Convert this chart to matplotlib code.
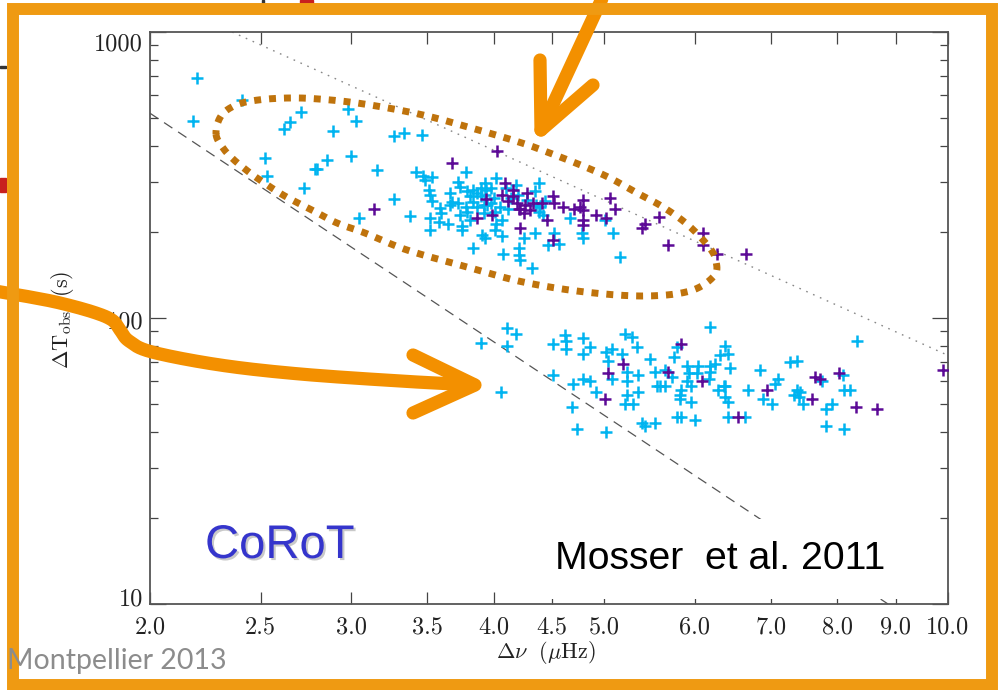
import numpy as np
import matplotlib
matplotlib.use("Agg")
import matplotlib.pyplot as plt
import matplotlib.patheffects as pe
from matplotlib.lines import Line2D
from matplotlib.patches import Rectangle
from matplotlib.transforms import Affine2D, ScaledTranslation
from matplotlib.ticker import FixedLocator, FormatStrFormatter, LogLocator, NullLocator, NullFormatter

# period spacing vs large separation, CoRoT red giants
# (delta nu in microHz, delta T_obs in s)
clump_cyan = [
    (2.20, 690), (2.18, 490), (2.41, 578), (2.71, 525), (2.65, 486), (2.62, 458), (2.98, 538),
    (3.03, 487), (2.89, 451), (2.52, 363), (2.53, 314), (2.86, 356), (2.80, 333), (2.79, 331),
    (3.00, 368), (3.16, 329), (2.73, 285), (3.05, 224),
    (3.27, 433), (3.34, 444), (3.46, 438), (3.42, 323), (3.47, 314), (3.53, 312), (3.27, 260),
    (3.38, 228), (3.78, 324), (3.72, 300), (3.52, 203), (3.84, 175), (3.91, 195), (3.75, 203),
    (3.48, 304), (3.51, 280), (3.52, 269), (3.53, 257), (3.59, 242), (3.60, 232), (3.52, 223),
    (3.58, 217), (3.65, 214), (3.66, 273), (3.68, 255), (3.66, 248),
    (3.74, 288), (3.79, 277), (3.81, 266), (3.72, 252), (3.78, 245), (3.74, 229), (3.79, 235),
    (3.81, 220), (3.75, 209),
    (3.84, 280), (3.87, 273), (3.90, 284), (3.93, 296), (3.90, 266), (3.84, 255), (3.87, 245),
    (3.92, 248), (3.93, 191),
    (4.01, 203), (4.02, 214), (4.01, 235), (3.98, 252), (3.94, 280), (4.02, 308), (3.98, 284),
    (3.93, 270), (4.00, 262), (3.95, 248), (3.92, 232), (4.07, 193), (4.07, 220),
    (4.10, 285), (4.14, 262), (4.20, 270), (4.28, 258), (4.12, 240), (4.05, 245),
    (4.38, 296), (4.35, 277), (4.44, 257), (4.38, 235), (4.42, 229), (4.36, 248),
    (4.18, 292), (4.39, 245), (4.67, 223), (4.52, 198), (4.56, 182), (4.46, 180), (4.35, 198),
    (4.32, 149), (4.22, 160), (4.21, 175), (4.21, 166), (4.08, 168), (4.25, 190),
    (4.78, 198), (4.79, 190), (5.09, 198), (5.16, 163), (5.01, 220),
]
clump_violet = [
    (3.14, 240), (3.68, 348), (3.94, 261), (3.87, 224), (3.99, 229), (4.03, 385),
    (4.09, 296), (4.16, 280), (4.12, 257), (4.07, 269), (4.16, 266), (4.19, 252), (4.22, 241),
    (4.26, 248), (4.28, 273), (4.30, 238), (4.33, 252), (4.25, 232), (4.21, 241),
    (4.41, 252), (4.45, 221), (4.51, 266), (4.52, 252), (4.60, 245), (4.70, 241), (4.76, 245),
    (4.79, 238), (4.79, 220), (4.79, 211), (4.79, 259), (4.92, 229), (5.02, 223), (5.06, 262),
    (5.11, 241), (5.39, 206), (5.43, 214), (5.58, 225), (5.69, 180), (6.10, 198), (6.10, 180),
    (6.27, 168), (6.65, 167), (4.51, 187), (4.22, 206),
]
rgb_cyan = [
    (4.11, 92), (4.18, 88), (3.90, 82), (4.11, 80), (4.06, 55), (4.51, 63), (4.62, 87),
    (4.63, 83), (4.63, 78), (4.51, 81), (4.79, 85), (4.86, 79), (4.79, 75), (4.69, 59),
    (4.79, 61), (4.86, 60), (4.92, 55), (4.68, 49), (4.73, 41), (5.02, 76), (5.08, 78),
    (5.18, 75), (5.04, 71), (5.08, 61), (5.23, 65), (5.23, 60), (5.23, 54), (5.21, 50),
    (5.30, 50), (5.02, 40), (5.21, 88), (5.29, 86), (5.34, 79),
    (6.19, 93), (5.79, 79), (5.75, 73), (5.48, 72), (5.35, 63), (5.54, 65), (5.65, 66),
    (5.73, 62), (5.91, 68), (6.04, 68), (5.93, 64), (6.03, 64), (6.19, 68), (6.19, 65),
    (6.25, 69), (6.44, 67), (5.91, 60), (5.96, 58), (6.17, 61), (5.59, 58), (5.65, 58),
    (5.56, 58), (5.84, 56), (5.82, 54), (5.82, 52), (5.95, 51), (5.35, 55), (6.29, 56),
    (6.36, 58), (6.38, 58), (6.38, 53), (6.42, 51), (5.39, 43), (5.43, 42), (5.54, 43),
    (5.79, 45), (5.84, 45), (6.00, 44), (6.42, 45), (6.64, 45), (6.68, 56), (6.84, 66),
    (6.89, 52), (7.01, 50), (7.05, 59), (7.10, 61), (7.27, 70), (7.37, 71), (7.33, 54),
    (6.42, 75), (6.32, 74), (6.38, 80),
    (8.32, 83), (7.76, 60), (8.09, 63), (7.37, 56), (7.42, 55), (7.40, 53), (7.46, 50),
    (8.10, 56), (8.20, 56), (7.91, 50), (7.82, 48), (7.82, 42), (8.11, 41),
]
rgb_violet = [
    (5.19, 69), (5.04, 64), (5.01, 52), (5.84, 81), (5.69, 65), (6.09, 60), (6.55, 45),
    (6.94, 56), (7.65, 62), (7.73, 61), (8.02, 64), (7.60, 52), (8.30, 49), (8.66, 48),
    (9.89, 66),
]

# reference relations drawn across the panel
upper_line_nu = [2.36, 10.0]
upper_line_dt = [1000, 74]
lower_line_nu = [2.0, 8.86]
lower_line_dt = [520, 10]

x_ticks = [2.0, 2.5, 3.0, 3.5, 4.0, 4.5, 5.0, 6.0, 7.0, 8.0, 9.0, 10.0]
y_ticks = [10, 100, 1000]

CYAN = "#00B4F0"
VIOLET = "#5C0A96"
FRAME = "#EF9A12"
ARROW = "#F39000"
LOOP = "#BF730C"

plt.rcParams["mathtext.fontset"] = "cm"
plt.rcParams["axes.formatter.use_mathtext"] = True

W, H = 998, 690
fig = plt.figure(figsize=(W / 100, H / 100), dpi=100)
# pixel coordinates, origin top-left, for the hand-drawn overlay
px = Affine2D().scale(1 / W, -1 / H).translate(0, 1) + fig.transFigure

ax = fig.add_axes([150 / W, (H - 604) / H, 798 / W, 572 / H])
ax.set_xscale("log")
ax.set_yscale("log")
ax.set_xlim(2.0, 10.0)
ax.set_ylim(10, 1000)

ax.plot(upper_line_nu, upper_line_dt, color="#888888", lw=1.0,
        linestyle=(0, (1.2, 4.2)), zorder=1)
ax.plot(lower_line_nu, lower_line_dt, color="#555555", lw=0.9,
        linestyle=(0, (8, 5.5)), zorder=1)

for pts, col in [(clump_cyan + rgb_cyan, CYAN), (clump_violet + rgb_violet, VIOLET)]:
    nu, dt = zip(*pts)
    ax.plot(nu, dt, "+", color=col, ms=8.2, mew=1.8, zorder=3)

# IDL-like axes: ticks inside on all four sides
for s in ax.spines.values():
    s.set_color("#555555")
    s.set_linewidth(1.3)
ax.xaxis.set_major_locator(FixedLocator(x_ticks))
ax.xaxis.set_major_formatter(FormatStrFormatter("%.1f"))
ax.xaxis.set_minor_locator(NullLocator())
ax.set_yticks(y_ticks)
ax.yaxis.set_major_formatter(FormatStrFormatter("%d"))
ax.yaxis.set_minor_locator(LogLocator(base=10, subs=np.arange(2, 10)))
ax.yaxis.set_minor_formatter(NullFormatter())
ax.tick_params(which="both", direction="in", top=True, right=True,
               color="#444444", width=0.9, labelcolor="#222222")
ax.tick_params(axis="x", which="major", length=8.6, pad=9, labelsize=17.5,
               labelfontfamily="cmr10")
ax.tick_params(axis="y", which="major", length=11.5, pad=5, labelsize=17.5,
               labelfontfamily="cmr10")
ax.tick_params(axis="y", which="minor", length=5.8)
for tick, shift in zip(ax.yaxis.get_major_ticks(), [7, -2, -10]):
    tick.label1.set_transform(tick.label1.get_transform()
                              + ScaledTranslation(0, shift / 100, fig.dpi_scale_trans))

fig.text(546, 652, r"$\Delta\nu\ \ (\mu{\rm Hz})$", transform=px,
         ha="center", va="center", fontsize=16, color="#222222")
fig.text(63, 320, r"$\Delta{\rm T}_{\rm obs}\ \ ({\rm s})$", transform=px,
         rotation=90, ha="center", va="center", fontsize=16, color="#222222")


def spline(pts, closed=False, n=16):
    # Catmull-Rom through the control points
    pts = np.asarray(pts, float)
    if closed:
        P = np.vstack([pts[-1], pts, pts[0], pts[1]])
    else:
        P = np.vstack([pts[0], pts, pts[-1]])
    t = np.linspace(0, 1, n, endpoint=False)[:, None]
    out = []
    for i in range(1, len(P) - 2):
        p0, p1, p2, p3 = P[i - 1], P[i], P[i + 1], P[i + 2]
        out.append(0.5 * (2 * p1 + (p2 - p0) * t + (2 * p0 - 5 * p1 + 4 * p2 - p3) * t ** 2
                          + (3 * p1 - p0 - 3 * p2 + p3) * t ** 3))
    out.append(P[-2][None])
    return np.vstack(out)


# dotted loop around the clump stars
loop = spline([(216, 134), (223, 148), (233, 159), (245, 169), (257, 178), (283, 195),
               (310, 209), (337, 223), (365, 233), (407, 250), (467, 267), (523, 282),
               (585, 292), (645, 296), (690, 291), (714, 276), (716, 261), (709, 247),
               (688, 225), (663, 207), (637, 193), (610, 178), (583, 166), (555, 155),
               (525, 144), (482, 131), (423, 115), (364, 104), (319, 99), (288, 98),
               (258, 100), (236, 105), (221, 116)], closed=True)
fig.add_artist(Line2D(loop[:, 0], loop[:, 1], transform=px, color=LOOP, lw=5,
                      linestyle=(0, (1, 1.15)), solid_capstyle="butt",
                      dash_capstyle="butt", zorder=4))

# arrows
arrow_kw = dict(transform=px, color=ARROW, lw=9.5, solid_capstyle="round",
                solid_joinstyle="round", zorder=6)
fig.add_artist(Line2D([606, 541], [-10, 130], **arrow_kw))
fig.add_artist(Line2D([540, 541, 593], [60, 130, 85], **arrow_kw))
curve = spline([(-5, 291), (30, 297), (60, 303), (93, 312), (112, 320), (120, 330),
                (129, 341), (152, 352), (220, 365), (300, 374), (400, 381), (474, 385)])
fig.add_artist(Line2D(curve[:, 0], curve[:, 1], **arrow_kw))
fig.add_artist(Line2D([413, 475, 413], [355, 385, 413], **arrow_kw))

# slide frame and leftovers peeking out from behind it
for x0, y0, w, h, c in [(262, 0, 2, 3, "#333333"), (300, 0, 13, 3, "#C8201E"),
                        (0, 66, 6, 2, "#333333"), (0, 178, 6, 14, "#C8201E")]:
    fig.add_artist(Rectangle((x0, y0), w, h, transform=px, color=c, zorder=7))
fig.add_artist(Rectangle((13, 8.5), 979.5, 676.5, transform=px, fill=False,
                         ec=FRAME, lw=8.6, joinstyle="miter", zorder=8))

fig.text(205, 558, "CoRoT", transform=px, ha="left", va="baseline",
         fontsize=34, family="Liberation Sans", color="#3535CC", zorder=9,
         path_effects=[pe.SimplePatchShadow(offset=(1.5, -1.5), shadow_rgbFace="#888888",
                                            alpha=0.45), pe.Normal()])
fig.text(555, 569, "Mosser  et al. 2011", transform=px, ha="left", va="baseline",
         fontsize=28.3, family="Liberation Sans", color="black", zorder=5,
         bbox=dict(boxstyle="square,pad=0.55", fc="white", ec="none"))
fig.text(7, 669, "Montpellier 2013", transform=px, ha="left", va="baseline",
         fontsize=20.5, family="Lato", color="#8C8C8C", zorder=9)

fig.savefig("out.png", dpi=100)
